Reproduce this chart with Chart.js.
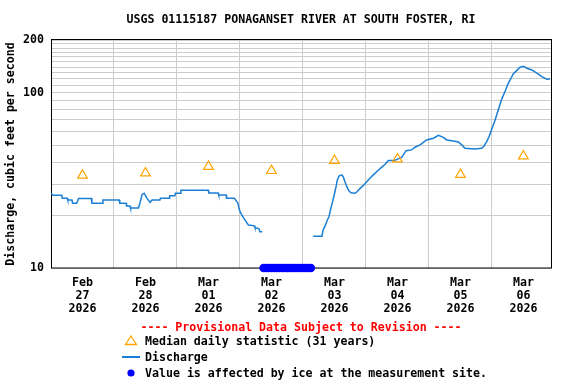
<!DOCTYPE html>
<html>
<head>
<meta charset="utf-8">
<script src="https://cdn.jsdelivr.net/npm/chart.js@4.4.1/dist/chart.umd.min.js"></script>
<style>
  body { margin: 0; background: #fff; }
  #wrap { position: relative; width: 576px; height: 384px; font-family: "DejaVu Sans Mono", monospace; font-weight: bold; font-size: 11.6px; color: #000; }
  #myChart { position: absolute; left: 0; top: 0; }
  .txt { position: absolute; line-height: 14px; white-space: nowrap; }
</style>
</head>
<body>
<div id="wrap">
  <canvas id="myChart" width="576" height="384"></canvas>
  <div class="txt" style="left:51px; top:12px; width:500px; text-align:center;">USGS 01115187 PONAGANSET RIVER AT SOUTH FOSTER, RI</div>
  <div class="txt" style="left:51px; top:320px; width:500px; text-align:center; color:#ff0000;">---- Provisional Data Subject to Revision ----</div>
  <svg style="position:absolute; left:124px; top:335px;" width="14" height="11"><polygon points="7,1 12.5,9.5 1.5,9.5" fill="none" stroke="#ffa500" stroke-width="1.3"/></svg>
  <div class="txt" style="left:145px; top:334px;">Median daily statistic (31 years)</div>
  <div style="position:absolute; left:122px; top:356px; width:18px; height:1.5px; background:#1a7fd4;"></div>
  <div class="txt" style="left:145px; top:350px;">Discharge</div>
  <svg style="position:absolute; left:126px; top:368px;" width="10" height="10"><circle cx="5" cy="5" r="3.6" fill="#0000ff"/></svg>
  <div class="txt" style="left:145px; top:366px;">Value is affected by ice at the measurement site.</div>
</div>
<script>
// hours since Feb 27 2026 00:00
const flowHours = [0.0, 0.8, 4.1, 4.3, 6.2, 6.4, 8.0, 8.2, 9.8, 10.5, 15.4, 15.6, 19.6, 19.8, 26.0, 26.2, 28.6, 28.8, 30.1, 30.3,
  33.3, 33.9, 34.7, 35.5, 36.4, 37.1, 37.7, 38.5, 41.5, 41.7, 45.0, 45.2, 47.2, 47.4, 49.3, 49.5, 59.9, 60.1, 63.7, 63.9,
  66.7, 66.9, 69.8, 70.5, 71.2, 71.6, 72.1, 72.7, 73.3, 74.2, 75.2, 77.5, 77.7, 79.2, 79.6, 80.5, 90,
  99.9, 103.2, 103.7, 104.5, 105.3, 105.9, 106.6, 107.3, 107.9, 108.6, 109.1, 109.7, 110.8, 111.4, 112.0, 112.7, 113.5, 114.3,
  115.8, 116.7, 117.5, 119.0, 120.3, 121.5, 122.8, 124.4, 125.8, 127.3, 128.5, 130.7, 133.6, 135.3, 137.4, 138.7, 140.6,
  143.1, 145.7, 147.6, 149.5, 150.8, 153.3, 155.2, 156.5, 157.7, 161.5, 164.1, 165.0, 166.0, 166.8, 167.6, 168.3, 169.2,
  170.0, 170.8, 171.6, 172.4, 173.2, 174.2, 175.3, 176.1, 177.4, 178.7, 180.0, 181.3, 183.2, 185.1, 187.0, 188.9, 190.1]
const flowValues = [26.7, 26.0, 26.0, 25.0, 25.0, 24.4, 24.4, 23.4, 23.4, 24.9, 24.9, 23.4, 23.4, 24.4, 24.4, 23.4, 23.4, 22.6, 22.6, 22.0,
  22.0, 23.5, 26.3, 26.7, 25.2, 24.4, 23.7, 24.4, 24.4, 25.0, 25.0, 25.8, 25.8, 26.7, 26.7, 27.8, 27.8, 26.8, 26.8, 26.1,
  26.1, 25.0, 25.0, 24.3, 23.5, 21.9, 20.8, 20.1, 19.4, 18.5, 17.6, 17.4, 17.0, 16.8, 16.1, 16.1, null,
  15.2, 15.2, 16.5, 17.5, 18.8, 19.6, 21.9, 23.9, 26.1, 29.1, 31.8, 33.5, 34.0, 33.0, 31.1, 29.1, 27.6, 26.9,
  26.7, 27.3, 28.2, 29.6, 31.1, 32.5, 34.0, 35.8, 37.4, 39.1, 41.0, 41.0, 42.8, 46.7, 47.2, 48.9, 50.4,
  53.8, 55.0, 57.2, 55.7, 53.8, 53.1, 52.4, 50.4, 48.2, 47.8, 48.2, 49.7, 52.6, 55.7, 60.0, 64.1, 69.9,
  76.4, 83.3, 91.0, 97.1, 103.7, 113.3, 121.0, 128.1, 133.7, 139.8, 141.7, 138.0, 134.9, 129.3, 123.6, 119.4, 119.8]

const medianHours = [12, 36, 60, 84, 108, 132, 156, 180]
const medianValues = [33.8, 34.8, 37.9, 35.9, 41.0, 41.8, 34.1, 43.5]

const iceHours = [81, 82, 83, 84, 85, 86, 87, 88, 89, 90, 91, 92, 93, 94, 95, 96, 97, 98, 99]
const iceValue = 10

const dayLabels = [['Feb', '27', '2026'], ['Feb', '28', '2026'], ['Mar', '01', '2026'], ['Mar', '02', '2026'],
  ['Mar', '03', '2026'], ['Mar', '04', '2026'], ['Mar', '05', '2026'], ['Mar', '06', '2026']]
const yGridValues = [10, 20, 30, 40, 50, 60, 70, 80, 90, 100, 110, 120, 130, 140, 150, 160, 170, 180, 190, 200]
const yTickLabels = [10, 100, 200]

const fontSpec = { family: '"DejaVu Sans Mono", monospace', weight: 'bold', size: 11.6 }

const frame = {
  id: 'frame',
  beforeDatasetsDraw(chart) {
    const a = chart.chartArea
    const c = chart.ctx
    c.save()
    c.strokeStyle = '#000'
    c.lineWidth = 1
    c.strokeRect(Math.round(a.left) + 0.5, Math.round(a.top) - 0.5, Math.round(a.right - a.left), Math.round(a.bottom - a.top) + 0.5)
    c.restore()
  }
}

const ctx = document.getElementById('myChart')

const grafica = new Chart(ctx, {
  type: 'line',
  data: {
    datasets: [{
      label: 'Discharge',
      data: flowHours.map((h, i) => ({ x: h, y: flowValues[i] })),
      borderColor: '#1a7fd4',
      borderWidth: 1.5,
      pointRadius: 0,
      tension: 0,
      order: 2
    }, {
      label: 'Median daily statistic (31 years)',
      data: medianHours.map((h, i) => ({ x: h, y: medianValues[i] })),
      showLine: false,
      pointStyle: 'triangle',
      pointRadius: 5.6,
      pointBorderWidth: 1.2,
      pointBorderColor: '#ffa500',
      pointBackgroundColor: 'rgba(0,0,0,0)',
      order: 1
    }, {
      label: 'Ice',
      data: iceHours.map(h => ({ x: h, y: iceValue })),
      showLine: false,
      pointRadius: 4.3,
      pointBorderWidth: 0,
      pointBackgroundColor: '#0000ff',
      clip: false,
      order: 0
    }]
  },
  options: {
    animation: false,
    responsive: false,
    layout: { padding: { left: 0, right: 25, top: 40, bottom: 66 } },
    plugins: { legend: { display: false }, tooltip: { enabled: false } },
    scales: {
      x: {
        type: 'linear',
        min: 0,
        max: 190.5,
        border: { display: false },
        afterBuildTicks: scale => {
          const t = []
          for (let i = 0; i < dayLabels.length; i++) {
            t.push({ value: medianHours[i] })
            if (i > 0) t.push({ value: medianHours[i] - 12 })
          }
          t.sort((a, b) => a.value - b.value)
          scale.ticks = t
        },
        afterFit: scale => { scale.height = 50 },
        grid: {
          drawTicks: false,
          color: c => (c.tick && c.tick.value % 24 === 0) ? '#cccccc' : 'rgba(0,0,0,0)'
        },
        ticks: {
          autoSkip: false,
          maxRotation: 0,
          padding: 8,
          color: '#000',
          font: { ...fontSpec, lineHeight: '13px' },
          callback: v => v % 24 === 12 ? dayLabels[(v - 12) / 24] : ''
        }
      },
      y: {
        type: 'logarithmic',
        min: 10,
        max: 200,
        border: { display: false },
        afterBuildTicks: scale => { scale.ticks = yGridValues.map(v => ({ value: v })) },
        afterFit: scale => { scale.width = 51 },
        grid: { drawTicks: false, color: '#cccccc' },
        ticks: {
          autoSkip: false,
          padding: 7,
          color: '#000',
          font: fontSpec,
          callback: v => yTickLabels.includes(v) ? String(v) : ''
        },
        title: {
          display: true,
          text: 'Discharge, cubic feet per second',
          color: '#000',
          font: fontSpec
        }
      }
    }
  },
  plugins: [frame]
})
</script>
</body>
</html>
